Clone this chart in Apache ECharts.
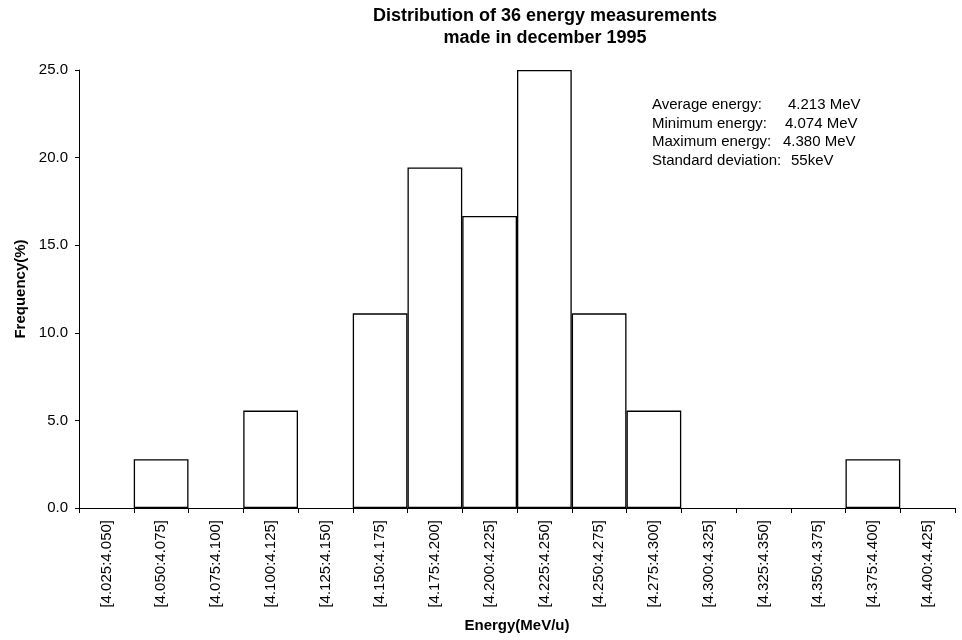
<!DOCTYPE html>
<html>
<head>
<meta charset="utf-8">
<style>
  html, body { margin: 0; padding: 0; background: #fff; }
  #chart { width: 962px; height: 640px; }
</style>
<script src="https://cdn.jsdelivr.net/npm/echarts@6/dist/echarts.min.js"></script>
</head>
<body>
<div id="chart"></div>
<script>
// Energy bins (MeV/u)
const bins = [
  '[4.025:4.050]', '[4.050:4.075]', '[4.075:4.100]', '[4.100:4.125]',
  '[4.125:4.150]', '[4.150:4.175]', '[4.175:4.200]', '[4.200:4.225]',
  '[4.225:4.250]', '[4.250:4.275]', '[4.275:4.300]', '[4.300:4.325]',
  '[4.325:4.350]', '[4.350:4.375]', '[4.375:4.400]', '[4.400:4.425]'
];
// Frequency of measurements in each bin (%), '-' = empty bin
const frequency = [
  '-', 2.78, '-', 5.56,
  '-', 11.11, 19.44, 16.67,
  25.0, 11.11, 5.56, '-',
  '-', '-', 2.78, '-'
];
// Summary statistics
const statNames = ['Average energy:', 'Minimum energy:', 'Maximum energy:', 'Standard deviation:'];
const statValues = ['4.213 MeV', '4.074 MeV', '4.380 MeV', '55keV'];
const yTicks = [0, 5, 10, 15, 20, 25];

const FONT = '"Liberation Sans", Arial, Helvetica, sans-serif';
const statValueX = [788, 785, 783, 791];

const chart = echarts.init(document.getElementById('chart'), null, { renderer: 'canvas' });

// statistics box in the upper right
const graphics = [];
statNames.forEach((name, i) => {
  const y = 105 + i * 18.5;
  graphics.push({
    type: 'text', x: 652, y: y,
    style: { text: name, font: '15px ' + FONT, fill: '#000', verticalAlign: 'middle' }
  });
  graphics.push({
    type: 'text', x: statValueX[i], y: y,
    style: { text: statValues[i], font: '15px ' + FONT, fill: '#000', verticalAlign: 'middle' }
  });
});

chart.setOption({
  animation: false,
  backgroundColor: '#fff',
  title: {
    text: 'Distribution of 36 energy measurements\nmade in december 1995',
    left: 540, top: 0, textAlign: 'center',
    textStyle: { fontFamily: FONT, fontSize: 18, fontWeight: 'bold', color: '#000', lineHeight: 22 }
  },
  grid: { left: 79, right: 7, top: 70, bottom: 132 },
  xAxis: {
    type: 'category',
    data: bins,
    boundaryGap: true,
    name: 'Energy(MeV/u)',
    nameLocation: 'middle',
    nameGap: 110,
    nameTextStyle: { fontFamily: FONT, fontSize: 15, fontWeight: 'bold', color: '#000' },
    axisLine: { lineStyle: { color: '#000', width: 1 } },
    axisTick: { show: true, alignWithLabel: false, length: 5, lineStyle: { color: '#000' } },
    axisLabel: {
      rotate: 90, interval: 0, margin: 12,
      fontFamily: FONT, fontSize: 15, color: '#000'
    },
    splitLine: { show: false }
  },
  yAxis: {
    type: 'value',
    min: yTicks[0], max: yTicks[yTicks.length - 1], interval: 5,
    name: 'Frequency(%)',
    nameLocation: 'middle',
    nameGap: 50,
    nameTextStyle: { fontFamily: FONT, fontSize: 15, fontWeight: 'bold', color: '#000' },
    axisLine: { show: true, lineStyle: { color: '#000', width: 1 } },
    axisTick: { show: true, length: 4, lineStyle: { color: '#000' } },
    axisLabel: {
      margin: 11, fontFamily: FONT, fontSize: 15, color: '#000',
      formatter: v => v.toFixed(1)
    },
    splitLine: { show: false }
  },
  series: [{
    type: 'bar',
    data: frequency,
    barCategoryGap: '0%',
    itemStyle: { color: '#fff', borderColor: '#000', borderWidth: 1.3 }
  }],
  graphic: graphics
});
</script>
</body>
</html>
